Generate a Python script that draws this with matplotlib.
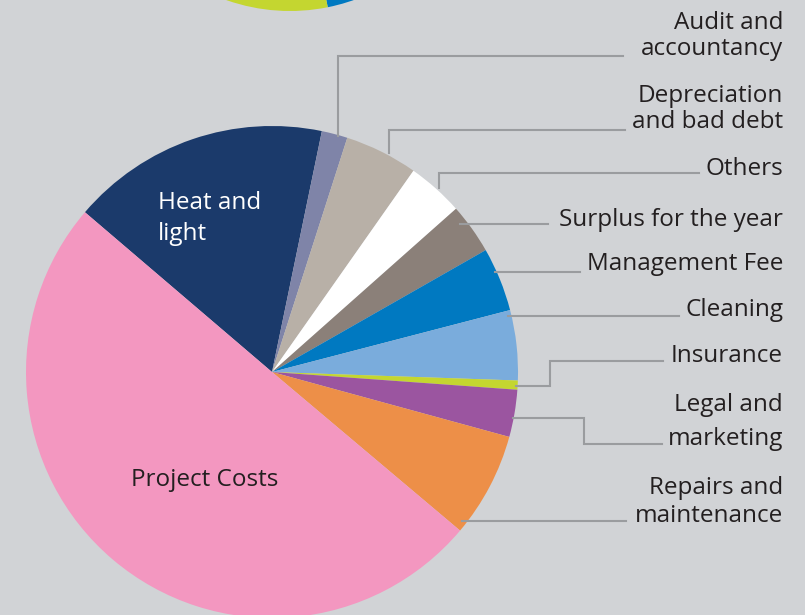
import matplotlib.pyplot as plt

plt.rcParams['font.family'] = ['Open Sans', 'DejaVu Sans']

# slices in clockwise order, starting at the Heat and light edge
labels = ['Heat and light', 'Audit and accountancy', 'Depreciation and bad debt', 'Others',
          'Surplus for the year', 'Management Fee', 'Cleaning', 'Insurance',
          'Legal and marketing', 'Repairs and maintenance', 'Project Costs']
shares = [17.0, 1.7, 4.8, 3.7, 3.3, 4.2, 4.6, 0.6, 3.1, 6.9, 50.1]
colors = ['#1b3a6b', '#7f84a8', '#b8b0a7', '#ffffff', '#8b8079', '#0079c1',
          '#7aacdc', '#c4d630', '#9b55a0', '#ed8f48', '#f397c0']

# the pie above, only its bottom edge shows
top_shares = [13.5, 17.0, 69.5]
top_colors = ['#0079c1', '#c4d630', '#0079c1']

bg = '#d1d3d6'
W, H = 805, 615
def Y(y):
    return H - y

fig = plt.figure(figsize=(8.05, 6.15), dpi=100, facecolor=bg)
ax = fig.add_axes([0, 0, 1, 1])
ax.set_facecolor(bg)

ax.pie(top_shares, colors=top_colors, startangle=-30, counterclock=False,
       center=(290, Y(-180)), radius=191, wedgeprops=dict(linewidth=0))
ax.pie(shares, colors=colors, startangle=139.5, counterclock=False,
       center=(272, Y(372)), radius=246, wedgeprops=dict(linewidth=0))

ax.set_xlim(0, W)
ax.set_ylim(0, H)
ax.set_aspect('equal')
ax.axis('off')

# leader lines (pixel coords, y from top)
lc = '#9a9c9f'
leaders = [
    [(338, 136), (338, 56), (623, 56)],
    [(389, 153), (389, 130), (625, 130)],
    [(439, 188), (439, 173), (699, 173)],
    [(460, 224), (548, 224)],
    [(495, 272), (580, 272)],
    [(508, 316), (679, 316)],
    [(516, 386), (550, 386), (550, 361), (663, 361)],
    [(513, 418), (584, 418), (584, 444), (662, 444)],
    [(462, 521), (626, 521)],
]
for pts in leaders:
    ax.plot([p[0] for p in pts], [Y(p[1]) for p in pts], color=lc, lw=1.5,
            solid_joinstyle='miter')

tc = '#231f20'
fs = 17.5
right_text = [
    ('Audit and', 29), ('accountancy', 55),
    ('Depreciation', 102), ('and bad debt', 128),
    ('Others', 175),
    ('Surplus for the year', 226),
    ('Management Fee', 270),
    ('Cleaning', 316),
    ('Insurance', 362),
    ('Legal and', 411), ('marketing', 445),
    ('Repairs and', 494), ('maintenance', 522),
]
for s, yb in right_text:
    ax.text(783, Y(yb), s, ha='right', va='baseline', fontsize=fs, color=tc)

ax.text(158, Y(209), 'Heat and', ha='left', va='baseline', fontsize=fs, color='white')
ax.text(158, Y(240), 'light', ha='left', va='baseline', fontsize=fs, color='white')
ax.text(205, Y(486), 'Project Costs', ha='center', va='baseline', fontsize=fs, color=tc)

plt.savefig('out.png', dpi=100, facecolor=bg)
